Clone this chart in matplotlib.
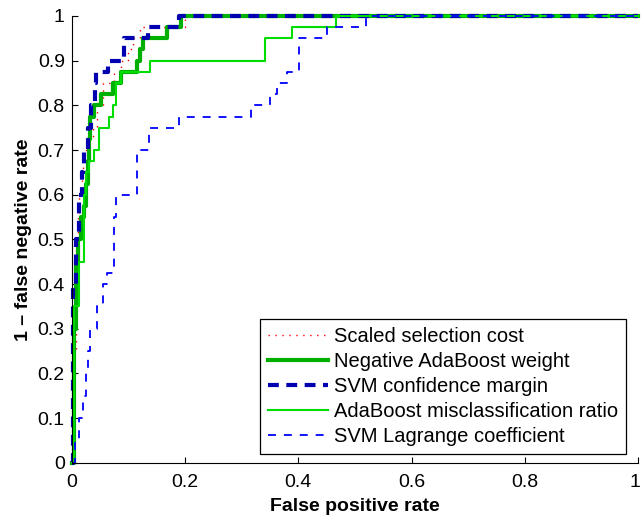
import matplotlib.pyplot as plt
from matplotlib.transforms import ScaledTranslation

plt.rcParams['font.family'] = ['Liberation Sans', 'DejaVu Sans']

# ROC curves: fpr where the curve rises, tpr after the rise
cost_fpr = [0, 0.003, 0.008, 0.011, 0.013, 0.018, 0.020, 0.028, 0.038, 0.045, 0.055, 0.075, 0.087, 0.100, 0.108, 0.120, 0.200, 1]
cost_tpr = [0, 0.250, 0.500, 0.550, 0.600, 0.650, 0.700, 0.725, 0.750, 0.800, 0.850, 0.875, 0.900, 0.925, 0.950, 0.975, 1.000, 1]

ada_w_fpr = [0, 0.004, 0.008, 0.011, 0.016, 0.022, 0.025, 0.028, 0.031, 0.033, 0.040, 0.052, 0.072, 0.087, 0.116, 0.120, 0.125, 0.169, 0.193, 1]
ada_w_tpr = [0, 0.300, 0.450, 0.500, 0.550, 0.575, 0.625, 0.675, 0.725, 0.775, 0.800, 0.825, 0.850, 0.875, 0.900, 0.925, 0.950, 0.975, 1.000, 1]

svm_m_fpr = [0, 0.003, 0.008, 0.013, 0.018, 0.022, 0.028, 0.034, 0.041, 0.043, 0.064, 0.093, 0.135, 0.190, 1]
svm_m_tpr = [0, 0.400, 0.500, 0.600, 0.650, 0.700, 0.750, 0.800, 0.850, 0.875, 0.900, 0.950, 0.975, 1.000, 1]

ada_r_fpr = [0, 0.004, 0.012, 0.022, 0.025, 0.031, 0.040, 0.049, 0.066, 0.072, 0.078, 0.087, 0.138, 0.342, 0.389, 0.466, 1]
ada_r_tpr = [0, 0.350, 0.450, 0.600, 0.650, 0.675, 0.700, 0.750, 0.775, 0.800, 0.850, 0.875, 0.900, 0.950, 0.975, 1.000, 1]

svm_l_fpr = [0, 0.005, 0.0135, 0.020, 0.025, 0.028, 0.033, 0.045, 0.055, 0.063, 0.075, 0.078, 0.115, 0.137, 0.190, 0.316, 0.350, 0.362, 0.380, 0.402, 0.450, 0.520, 1]
svm_l_tpr = [0, 0.050, 0.100, 0.150, 0.200, 0.250, 0.300, 0.350, 0.400, 0.425, 0.550, 0.600, 0.700, 0.750, 0.775, 0.800, 0.825, 0.850, 0.875, 0.950, 0.975, 1.000, 1]

labels = ["Scaled selection cost", "Negative AdaBoost weight", "SVM confidence margin",
          "AdaBoost misclassification ratio", "SVM Lagrange coefficient"]

fig = plt.figure(figsize=(6.42, 5.16), dpi=100)
ax = fig.add_axes([0.1117, 0.1033, 0.8825, 0.8657])

ax.plot(cost_fpr, cost_tpr, drawstyle='steps-post', color='#ff0000', lw=1.0,
        dashes=(1, 4), label=labels[0], clip_on=False)
ax.plot(ada_w_fpr, ada_w_tpr, drawstyle='steps-post', color='#00b000', lw=3.0,
        label=labels[1], clip_on=False)
ax.plot(svm_m_fpr, svm_m_tpr, drawstyle='steps-post', color='#0000b0', lw=3.0,
        dashes=(2.6, 1.8), label=labels[2], clip_on=False)
ax.plot(ada_r_fpr, ada_r_tpr, drawstyle='steps-post', color='#00dd00', lw=1.5,
        label=labels[3], clip_on=False)
ax.plot(svm_l_fpr, svm_l_tpr, drawstyle='steps-post', color='#0000ff', lw=1.3,
        dashes=(4.4, 4.4), label=labels[4], clip_on=False)

ax.set_xlim(0, 1)
ax.set_ylim(0, 1)
ax.set_xticks([0, 0.2, 0.4, 0.6, 0.8, 1])
ax.set_xticklabels(["0", "0.2", "0.4", "0.6", "0.8", "1"])
ax.set_yticks([i / 10 for i in range(11)])
ax.set_yticklabels(["0", "0.1", "0.2", "0.3", "0.4", "0.5", "0.6", "0.7", "0.8", "0.9", "1"])
ax.tick_params(direction='in', length=4, width=0.8, labelsize=14)
ax.tick_params(axis='x', pad=8)
ax.tick_params(axis='y', pad=5)
ax.spines['top'].set_visible(False)
ax.spines['right'].set_visible(False)

# keep the last x tick label inside the figure
last = ax.get_xticklabels()[-1]
last.set_transform(last.get_transform() + ScaledTranslation(-3 / 100, 0, fig.dpi_scale_trans))

ax.set_xlabel("False positive rate", fontsize=14, fontweight='bold', labelpad=5)
ax.set_ylabel("1 \u2013 false negative rate", fontsize=14, fontweight='bold', labelpad=4)

leg = ax.legend(loc='lower right', bbox_to_anchor=(0.979, 0.0195), fontsize=14.5,
                frameon=True, fancybox=False, framealpha=1, edgecolor='black',
                handlelength=3.0, handletextpad=0.3, labelspacing=0.3,
                borderpad=0.4, borderaxespad=0)
leg.get_frame().set_linewidth(0.9)

plt.savefig('out.png', dpi=100)
